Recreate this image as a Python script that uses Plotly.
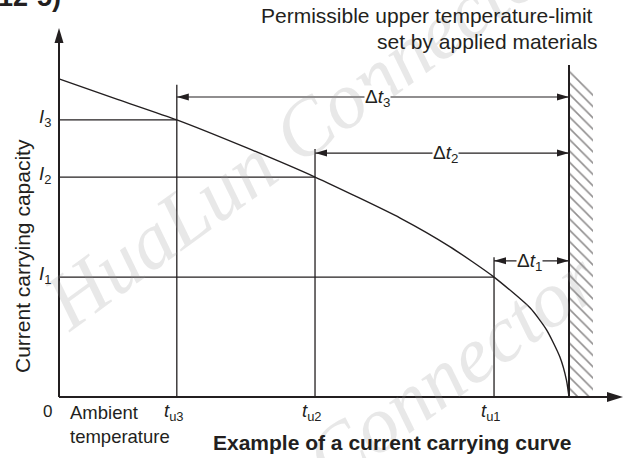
import plotly.graph_objects as go

# ---------------- data ----------------
curve_t = [0.0, 1.16, 2.31, 3.65, 5.02, 6.69, 7.67, 8.53, 9.24, 9.56, 9.82, 9.95, 10.0]
curve_I = [8.62, 8.06, 7.51, 6.77, 5.96, 4.85, 4.07, 3.25, 2.41, 1.82, 1.09, 0.46, 0.0]

t_u = [2.31, 5.02, 8.53]            # t_u3, t_u2, t_u1
I_lv = [7.51, 5.96, 3.25]           # I3, I2, I1
t_labels = ["3", "2", "1"]
t_limit = 10.0                      # permissible upper temperature limit
wall_top = 9.0
vline_top = [8.46, 6.72, 3.79]
dt_level = [8.13, 6.61, 3.69]
dt_label_x = [6.24, 7.57, 9.22]

# ---------------- pixel mapping helpers ----------------
W, H = 627, 458
X0PX, XSCALE = 59, 51.0
Y0PX, YSCALE = 397, 36.9
xr = [(0 - X0PX) / XSCALE, (W - X0PX) / XSCALE]
yr = [(Y0PX - H) / YSCALE, Y0PX / YSCALE]
def px(p):
    return p / W
def py(p):
    return 1 - p / H

INK = "#231f20"
FONT = "Liberation Sans, Arial, sans-serif"

fig = go.Figure()

# hatch of the wall
hatch_w = 0.47
fig.add_trace(go.Scatter(
    x=[t_limit, t_limit + hatch_w, t_limit + hatch_w, t_limit, t_limit],
    y=[0, 0, wall_top - 0.65, wall_top, 0],
    fill="toself", mode="none", fillcolor="white",
    fillpattern=dict(shape="\\", size=8, solidity=0.2, fgcolor=INK, bgcolor="white"),
    hoverinfo="skip", showlegend=False))

# horizontal I lines
hx, hy = [], []
for t, i in zip(t_u, I_lv):
    hx += [0, t, None]
    hy += [i, i, None]
fig.add_trace(go.Scatter(x=hx, y=hy, mode="lines", line=dict(color=INK, width=1.3),
                         hoverinfo="skip", showlegend=False))
# vertical t lines
vx, vy = [], []
for t, top in zip(t_u, vline_top):
    vx += [t, t, None]
    vy += [0, top, None]
fig.add_trace(go.Scatter(x=vx, y=vy, mode="lines", line=dict(color=INK, width=1.3),
                         hoverinfo="skip", showlegend=False))
# wall line
fig.add_trace(go.Scatter(x=[t_limit, t_limit], y=[0, wall_top], mode="lines",
                         line=dict(color=INK, width=2), hoverinfo="skip", showlegend=False))
# current carrying curve
fig.add_trace(go.Scatter(x=curve_t, y=curve_I, mode="lines",
                         line=dict(color=INK, width=1.4, shape="spline", smoothing=0.6),
                         hoverinfo="skip", showlegend=False))

shapes = []
x_tip = (623 - X0PX) / XSCALE
y_tip = (Y0PX - 28) / YSCALE
# axes
shapes.append(dict(type="line", x0=0, y0=0, x1=0, y1=y_tip - 0.2, line=dict(color=INK, width=2)))
shapes.append(dict(type="line", x0=0, y0=0, x1=x_tip - 0.2, y1=0, line=dict(color=INK, width=2)))
shapes.append(dict(type="path", xsizemode="pixel", ysizemode="pixel", xanchor=0, yanchor=y_tip,
                   path="M0,0 L-4.5,-15 L4.5,-15 Z", fillcolor=INK, line=dict(width=0)))
shapes.append(dict(type="path", xsizemode="pixel", ysizemode="pixel", xanchor=x_tip, yanchor=0,
                   path="M0,0 L-16,5 L-16,-5 Z", fillcolor=INK, line=dict(width=0)))
# delta-t arrows
for t, lv in zip(t_u, dt_level):
    shapes.append(dict(type="line", x0=t, y0=lv, x1=t_limit, y1=lv, line=dict(color=INK, width=1.2)))
    shapes.append(dict(type="path", xsizemode="pixel", ysizemode="pixel", xanchor=t_limit, yanchor=lv,
                       path="M0,0 L-12,3.5 L-12,-3.5 Z", fillcolor=INK, line=dict(width=0)))
    shapes.append(dict(type="path", xsizemode="pixel", ysizemode="pixel", xanchor=t, yanchor=lv,
                       path="M0,0 L12,3.5 L12,-3.5 Z", fillcolor=INK, line=dict(width=0)))

ann = []
# watermarks
wm = dict(text="<i>HuaLun Connector</i>", showarrow=False, textangle=-36,
          font=dict(family="Liberation Serif, Times New Roman, serif", size=80, color="rgba(150,150,150,0.22)"),
          xref="paper", yref="paper", xanchor="center", yanchor="middle")
ann.append(dict(wm, x=px(305), y=py(128)))
ann.append(dict(wm, x=px(338), y=py(452)))

def txt(text, x, y, size=21, xanchor="center", yanchor="middle", bold=False, **kw):
    d = dict(text=(f"<b>{text}</b>" if bold else text), x=x, y=y, showarrow=False,
             xanchor=xanchor, yanchor=yanchor,
             font=dict(family=FONT, size=size, color=INK))
    d.update(kw)
    if "xref" not in d:
        d["xref"] = "paper"
    if "yref" not in d:
        d["yref"] = "paper"
    ann.append(d)

txt("12-5)", px(63), py(14), size=27, xanchor="right", yanchor="bottom", bold=True)
txt("Permissible upper temperature-limit", px(595), py(15), xanchor="right")
txt("set by applied materials", px(600), py(42), xanchor="right")
txt("Current carrying capacity", px(22), py(256), textangle=-90)
txt("Example of a current carrying curve", px(392), py(442), bold=True)
txt("Ambient<br>temperature", px(68), py(424), size=18.5, xanchor="left", align="left")
txt("0", 0, 0, size=17, xref="x", yref="y", xshift=-12, yshift=-14)
for t, lab in zip(t_u, t_labels):
    txt(f"<i>t</i><sub>u{lab}</sub>", t, 0, size=18.5, xref="x", yref="y", yshift=-15, xshift=-3)
for i, lab in zip(I_lv, t_labels):
    txt(f"<i>I</i><sub>{lab}</sub>", 0, i, size=18.5, xref="x", yref="y", xanchor="right",
        xshift=-6, yshift=2)
for x, lv, lab in zip(dt_label_x, dt_level, t_labels):
    txt(f"Δ<i>t</i><sub>{lab}</sub>", x, lv, size=19, xref="x", yref="y", bgcolor="white",
        borderpad=0, yshift=-1)

fig.update_layout(
    width=W, height=H, margin=dict(l=0, r=0, t=0, b=0),
    paper_bgcolor="white", plot_bgcolor="white",
    xaxis=dict(range=xr, visible=False, fixedrange=True),
    yaxis=dict(range=yr, visible=False, fixedrange=True),
    shapes=shapes, annotations=ann, showlegend=False,
)
fig.write_html("out.html", config={"displayModeBar": False},
               post_script="document.body.style.margin='0';document.body.style.overflow='hidden';")
